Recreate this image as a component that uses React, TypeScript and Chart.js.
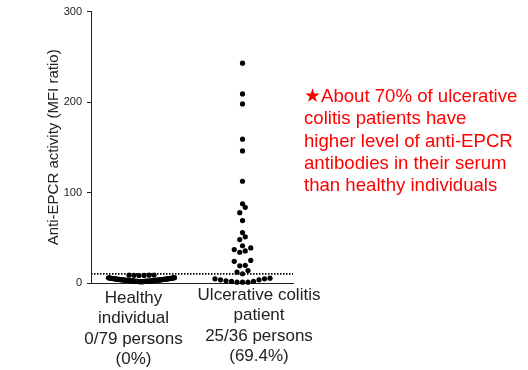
import React, { useEffect, useRef } from "react";
import { Chart, registerables } from "chart.js";

Chart.register(...registerables);

// ---------- data ----------
const categories = ["Healthy individual", "Ulcerative colitis patient"];
const categoryLabelLines = [
  ["Healthy", "individual", "0/79 persons", "(0%)"],
  ["Ulcerative colitis", "patient", "25/36 persons", "(69.4%)"],
];
const categoryPositions = [1, 3];

// MFI ratio, healthy individuals (79)
const healthyValues = [
  2.1, 1.5, 3.3, 4.7, 1.8, 2.6, 5.4, 1.6, 3.9, 2.3, 4.2, 1.4, 2.9, 3.6, 5.0, 1.7,
  2.5, 4.4, 3.1, 1.9, 5.8, 2.2, 3.4, 4.9, 1.5, 2.7, 3.8, 4.1, 1.6, 5.2, 2.4, 3.0,
  4.5, 1.8, 2.8, 3.5, 5.6, 2.0, 4.3, 3.2, 1.7, 2.6, 4.8, 3.7, 2.1, 5.1, 1.9, 2.9,
  4.0, 3.3, 2.3, 5.9, 3.9, 2.5, 4.6, 2.0, 3.1, 5.3, 2.7, 4.1, 3.4, 2.2, 5.0, 3.7,
  2.4, 4.7, 5.5, 3.0, 4.5, 5.7, 2.0, 3.6, 1.6,
  8.4, 8.6, 8.3, 8.8, 8.5, 8.7,
];

// MFI ratio, ulcerative colitis patients (36)
const ucValues = [
  243, 209, 198, 159, 146, 112.5, 87.6, 83.6, 77.7, 69, 55.7, 51, 48, 41.2, 38.8,
  37, 35.5, 34, 25, 24, 19.5, 19, 13.8, 12, 10.2,
  5.3, 4.6, 4.6, 3.5, 3.5, 2.4, 1.7, 1.7, 0.9, 0.9, 0.9,
];

const cutoffValue = 10;
const yTickValues = [0, 100, 200, 300];
const yAxisTitle = "Anti-EPCR activity (MFI ratio)";
const annotationLines = [
  "★About 70% of ulcerative",
  "colitis patients have",
  "higher level of anti-EPCR",
  "antibodies in their serum",
  "than healthy individuals",
];

// ---------- style / layout ----------
const FONT = '"Liberation Sans", Arial, Helvetica, sans-serif';
const INK = "#222";
const labelShiftPx = [-8, 16.5];
const labelFirstBaseline = [303, 300];
const labelLineStep = 20.3;

type SwarmOpts = { rowHeightPx: number; spacingPx: number; maxSpreadPx: number };

function swarm(chart: any, values: number[], center: number, o: SwarmOpts) {
  const xs = chart.scales.x;
  const ys = chart.scales.y;
  const pxPerUnit = Math.abs(ys.getPixelForValue(0) - ys.getPixelForValue(1));
  const rowH = o.rowHeightPx / pxPerUnit;
  const cx = xs.getPixelForValue(center);
  const sorted = [...values].sort((a, b) => a - b);
  const rows: number[][] = [];
  let cur: number[] = [];
  let start = -Infinity;
  for (const v of sorted) {
    if (v - start >= rowH) {
      if (cur.length) rows.push(cur);
      cur = [];
      start = v;
    }
    cur.push(v);
  }
  if (cur.length) rows.push(cur);
  const pts: { x: number; y: number }[] = [];
  for (const row of rows) {
    const n = row.length;
    const s = n > 1 ? Math.min(o.spacingPx, o.maxSpreadPx / (n - 1)) : 0;
    row.forEach((v, i) => {
      let off = 0;
      if (n % 2 === 1) {
        const k = Math.ceil(i / 2);
        off = i === 0 ? 0 : (i % 2 === 1 ? -1 : 1) * k * s;
      } else {
        const k = Math.floor(i / 2);
        off = (i % 2 === 0 ? -1 : 1) * (k + 0.5) * s;
      }
      pts.push({ x: xs.getValueForPixel(cx + off), y: v });
    });
  }
  return pts;
}

const categoryLabelPlugin = {
  id: "categoryLabels",
  afterDraw(chart: any) {
    const { ctx } = chart;
    const xs = chart.scales.x;
    ctx.save();
    ctx.font = `17px ${FONT}`;
    ctx.fillStyle = INK;
    ctx.textAlign = "center";
    ctx.textBaseline = "alphabetic";
    categoryLabelLines.forEach((lines, gi) => {
      const x = xs.getPixelForValue(categoryPositions[gi]) + labelShiftPx[gi];
      lines.forEach((line, li) => {
        ctx.fillText(line, x, labelFirstBaseline[gi] + li * labelLineStep);
      });
    });
    ctx.restore();
  },
};

export default function App() {
  const ref = useRef<HTMLCanvasElement | null>(null);

  useEffect(() => {
    document.body.style.margin = "0";
    if (!ref.current) return;
    const chart = new Chart(ref.current, {
      type: "scatter",
      data: {
        datasets: [
          {
            label: "values",
            data: [
              ...healthyValues.map((v) => ({ x: categoryPositions[0], y: v })),
              ...ucValues.map((v) => ({ x: categoryPositions[1], y: v })),
            ],
            pointRadius: 2.6,
            pointHoverRadius: 2.6,
            pointBackgroundColor: "#000",
            pointBorderWidth: 0,
            clip: false as any,
          },
          {
            type: "line" as any,
            label: "cutoff",
            data: [
              { x: 0, y: cutoffValue },
              { x: 4, y: cutoffValue },
            ],
            showLine: true,
            borderColor: "#000",
            borderWidth: 1.8,
            borderDash: [1.5, 1.5],
            pointRadius: 0,
          } as any,
        ],
      },
      options: {
        responsive: false,
        animation: false,
        devicePixelRatio: 1,
        layout: { padding: { left: 44, top: 11, right: 235, bottom: 87 } },
        plugins: { legend: { display: false }, tooltip: { enabled: false } },
        scales: {
          x: {
            type: "linear",
            min: 0,
            max: 4,
            ticks: { display: false },
            grid: { display: false },
            border: { display: true, color: INK, width: 1 },
            afterFit: (s: any) => {
              s.height = 0;
            },
          },
          y: {
            type: "linear",
            min: 0,
            max: 300,
            afterBuildTicks: (s: any) => {
              s.ticks = yTickValues.map((v) => ({ value: v }));
            },
            ticks: { font: { size: 11, family: FONT }, color: INK, padding: 5 },
            grid: {
              display: true,
              drawOnChartArea: false,
              drawTicks: true,
              tickLength: 4,
              color: INK,
              lineWidth: 1,
            },
            border: { display: true, color: INK, width: 1 },
            title: {
              display: true,
              text: yAxisTitle,
              font: { size: 15, family: FONT },
              color: INK,
              padding: { top: 1, bottom: 0 },
            },
            afterFit: (s: any) => {
              s.width = 47;
            },
          },
        },
      } as any,
      plugins: [categoryLabelPlugin],
    });

    const healthyPts = swarm(chart, healthyValues, categoryPositions[0], {
      rowHeightPx: 6,
      spacingPx: 5,
      maxSpreadPx: 66,
    });
    const ucPts = swarm(chart, ucValues, categoryPositions[1], {
      rowHeightPx: 6,
      spacingPx: 5.5,
      maxSpreadPx: 66,
    });
    (chart.data.datasets[0] as any).data = [...healthyPts, ...ucPts];
    chart.update();

    return () => chart.destroy();
  }, []);

  return (
    <div style={{ position: "relative", width: 528, height: 370, background: "#fff" }}>
      <canvas ref={ref} width={528} height={370} style={{ display: "block" }} aria-label={categories.join(" vs ")} />
      <div
        style={{
          position: "absolute",
          left: 304,
          top: 85,
          color: "#ff0000",
          fontFamily: FONT,
          fontSize: "18.6px",
          lineHeight: "22.25px",
          whiteSpace: "pre",
        }}
      >
        {annotationLines.join("\n")}
      </div>
    </div>
  );
}
